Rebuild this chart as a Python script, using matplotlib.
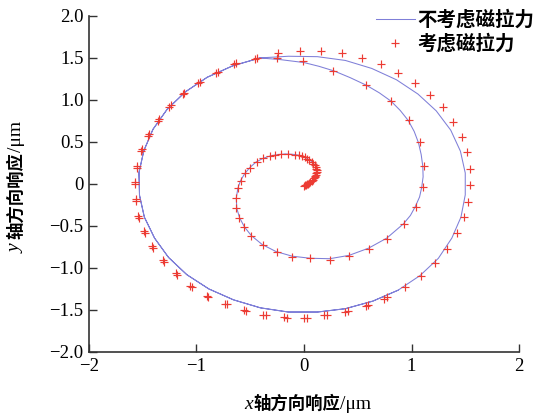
import numpy as np
import matplotlib
matplotlib.use('Agg')
import matplotlib.pyplot as plt
from matplotlib.transforms import IdentityTransform

# orbit without magnetic pull (blue line): inner spiral, first outer loop, second pass
blue_inner = [(0.02, 0.0), (0.06, 0.025), (0.095, 0.065), (0.115, 0.115), (0.12, 0.165),
              (0.105, 0.22), (0.07, 0.27), (0.02, 0.31), (-0.04, 0.34), (-0.10, 0.352),
              (-0.17, 0.357), (-0.24, 0.35), (-0.31, 0.335), (-0.38, 0.305), (-0.445, 0.262),
              (-0.50, 0.20), (-0.55, 0.125), (-0.59, 0.04), (-0.615, -0.05), (-0.63, -0.17),
              (-0.625, -0.29), (-0.60, -0.40), (-0.555, -0.51), (-0.49, -0.615), (-0.39, -0.72),
              (-0.26, -0.805), (-0.11, -0.86), (0.06, -0.885), (0.24, -0.89), (0.42, -0.85),
              (0.60, -0.765), (0.77, -0.645), (0.925, -0.475), (0.99, -0.375), (1.035, -0.27),
              (1.075, -0.155), (1.095, -0.04), (1.108, 0.085), (1.105, 0.21), (1.09, 0.35),
              (1.065, 0.49), (1.025, 0.625), (0.97, 0.755), (0.895, 0.875), (0.81, 0.985),
              (0.70, 1.085), (0.58, 1.175), (0.43, 1.265), (0.28, 1.345), (0.14, 1.40),
              (0.0, 1.445), (-0.22, 1.48), (-0.41, 1.50)]
blue_loop = [(-0.665, 1.405), (-0.90, 1.27), (-1.105, 1.095), (-1.275, 0.885), (-1.405, 0.65),
             (-1.49, 0.395), (-1.535, 0.135), (-1.53, -0.135), (-1.485, -0.395), (-1.39, -0.645),
             (-1.26, -0.875), (-1.09, -1.08), (-0.885, -1.25), (-0.655, -1.38), (-0.405, -1.475),
             (-0.145, -1.525), (0.125, -1.525), (0.385, -1.485), (0.64, -1.395), (0.875, -1.265),
             (1.08, -1.09), (1.25, -0.885), (1.375, -0.645), (1.46, -0.395), (1.50, -0.13),
             (1.50, 0.13), (1.455, 0.39), (1.365, 0.64), (1.23, 0.87), (1.06, 1.07),
             (0.86, 1.24), (0.63, 1.375), (0.385, 1.47), (0.125, 1.515), (-0.145, 1.52),
             (-0.41, 1.50)]
blue_end = [(-0.665, 1.405), (-0.90, 1.27), (-1.105, 1.095), (-1.275, 0.885), (-1.405, 0.65),
            (-1.49, 0.395), (-1.535, 0.135), (-1.53, -0.135), (-1.485, -0.395), (-1.39, -0.645),
            (-1.26, -0.875), (-1.09, -1.08), (-0.885, -1.25), (-0.655, -1.38), (-0.405, -1.475),
            (-0.145, -1.525), (0.125, -1.525), (0.385, -1.485), (0.64, -1.395), (0.875, -1.265)]

# orbit with magnetic pull (red + markers)
red_hook = [(0.00, -0.02), (0.01, -0.015), (0.02, -0.01), (0.03, -0.005), (0.04, 0.00),
            (0.05, 0.01), (0.06, 0.02), (0.07, 0.035), (0.08, 0.05), (0.09, 0.065),
            (0.10, 0.08), (0.105, 0.095), (0.11, 0.11), (0.115, 0.125), (0.12, 0.14),
            (0.12, 0.16), (0.115, 0.18), (0.11, 0.20), (0.10, 0.22), (0.085, 0.24),
            (0.07, 0.26), (0.05, 0.28), (0.03, 0.30), (0.005, 0.315), (-0.02, 0.33),
            (-0.05, 0.34)]
red_inner = [(-0.08, 0.345), (-0.15, 0.357), (-0.21, 0.357), (-0.27, 0.345), (-0.32, 0.333),
             (-0.38, 0.305), (-0.44, 0.266), (-0.50, 0.194), (-0.55, 0.127), (-0.59, 0.04),
             (-0.61, -0.05), (-0.63, -0.17), (-0.63, -0.29), (-0.60, -0.40), (-0.56, -0.51),
             (-0.49, -0.62), (-0.38, -0.73), (-0.25, -0.81), (-0.11, -0.865), (0.06, -0.885),
             (0.24, -0.90), (0.42, -0.857), (0.60, -0.77), (0.77, -0.65), (0.93, -0.48),
             (1.04, -0.27), (1.11, -0.04), (1.12, 0.21), (1.08, 0.50), (0.98, 0.76),
             (0.81, 0.99), (0.58, 1.18), (0.27, 1.35), (-0.01, 1.46), (-0.25, 1.50)]
red_loop = [(-0.44, 1.50), (-0.63, 1.435), (-0.80, 1.337), (-0.967, 1.212), (-1.116, 1.085),
            (-1.24, 0.935), (-1.346, 0.775), (-1.44, 0.598), (-1.505, 0.41), (-1.553, 0.216),
            (-1.572, 0.02), (-1.567, -0.18), (-1.54, -0.385), (-1.49, -0.56), (-1.41, -0.742),
            (-1.31, -0.91), (-1.195, -1.065), (-1.06, -1.214), (-0.905, -1.336), (-0.735, -1.425),
            (-0.555, -1.505), (-0.379, -1.56), (-0.19, -1.587), (0.0, -1.59), (0.19, -1.565),
            (0.385, -1.52), (0.575, -1.45), (0.745, -1.365), (0.94, -1.23), (1.086, -1.095),
            (1.219, -0.937), (1.333, -0.774), (1.42, -0.587), (1.488, -0.396), (1.528, -0.21),
            (1.544, -0.012), (1.544, 0.175), (1.519, 0.385), (1.467, 0.563), (1.383, 0.742),
            (1.29, 0.913), (1.172, 1.06), (1.033, 1.206), (0.877, 1.325), (0.716, 1.43),
            (0.537, 1.496), (0.35, 1.556), (0.155, 1.587), (-0.04, 1.587), (-0.24, 1.556)]
red_end = [(-0.46, 1.49), (-0.65, 1.425), (-0.82, 1.325), (-0.985, 1.20), (-1.13, 1.07),
           (-1.255, 0.915), (-1.36, 0.755), (-1.45, 0.575), (-1.513, 0.39), (-1.557, 0.195),
           (-1.572, 0.0), (-1.565, -0.20), (-1.535, -0.405), (-1.483, -0.58), (-1.40, -0.76),
           (-1.30, -0.925), (-1.18, -1.08), (-1.045, -1.225), (-0.89, -1.345), (-0.715, -1.435),
           (-0.535, -1.513), (-0.355, -1.565), (-0.16, -1.59), (0.03, -1.59), (0.215, -1.56),
           (0.41, -1.51), (0.595, -1.44), (0.775, -1.35)]

ticks = [-2, -1, 0, 1, 2]
xtick_labels = ['\u22122', '\u22121', '0', '1', '2']
yticks = [-2.0, -1.5, -1.0, -0.5, 0, 0.5, 1.0, 1.5, 2.0]
ytick_labels = ['\u22122.0', '\u22121.5', '\u22121.0', '\u22120.5', '0', '0.5', '1.0', '1.5', '2.0']

serif = 'Liberation Serif'
cjk = 'Noto Sans CJK SC'


def place_label(fig, pieces, x, y, vertical=False):
    # lay out mixed-font pieces one after the other, centred on (x, y) in pixels
    r = fig.canvas.get_renderer()
    widths = []
    for s, kw in pieces:
        t = fig.text(0, 0, s, **kw)
        widths.append(t.get_window_extent(r).width)
        t.remove()
    pos = -sum(widths) / 2
    for (s, kw), w in zip(pieces, widths):
        if vertical:
            fig.text(x, y + pos, s, rotation=90, rotation_mode='anchor', ha='left',
                     va='baseline', transform=IdentityTransform(), **kw)
        else:
            fig.text(x + pos, y, s, ha='left', va='baseline',
                     transform=IdentityTransform(), **kw)
        pos += w


fig = plt.figure(figsize=(5.38, 4.17), dpi=100)
ax = fig.add_axes([0.1654, 0.156, 0.7993, 0.8058])

blue = np.array(blue_inner + blue_loop + blue_end)
red = np.array(red_hook + red_inner + red_loop + red_end)
ax.plot(blue[:, 0], blue[:, 1], color='#7f7fd8', lw=0.75, label='不考虑磁拉力')
ax.plot(red[:, 0], red[:, 1], ls='none', marker='+', ms=5.5, mew=0.85,
        color='#ec3b33', label='考虑磁拉力')

ax.set_xlim(-2, 2)
ax.set_ylim(-2, 2)
ax.set_xticks(ticks)
ax.set_xticklabels(xtick_labels)
ax.set_yticks(yticks)
ax.set_yticklabels(ytick_labels)
for s in ['top', 'right']:
    ax.spines[s].set_visible(False)
for s in ['left', 'bottom']:
    ax.spines[s].set_color('#333333')
    ax.spines[s].set_linewidth(1.2)
ax.tick_params(direction='in', length=6, width=1, color='#333333', pad=4)
for lab in ax.get_xticklabels() + ax.get_yticklabels():
    lab.set_fontfamily(serif)
    lab.set_fontsize(13.5)

leg = ax.legend(loc='upper left', bbox_to_anchor=(376 / 538, 407 / 417),
                bbox_transform=fig.transFigure, frameon=False, borderpad=0,
                borderaxespad=0, handlelength=2.0, handletextpad=0.15,
                labelspacing=0.25, prop={'family': cjk, 'weight': 'bold', 'size': 14})

place_label(fig, [('x', dict(family=serif, style='italic', size=14)),
                  ('轴方向响应', dict(family=cjk, weight='bold', size=12.5)),
                  ('/μm', dict(family=serif, size=14))], 308, 8)
place_label(fig, [('y ', dict(family=serif, style='italic', size=14)),
                  ('轴方向响应', dict(family=cjk, weight='bold', size=12.5)),
                  ('/μm', dict(family=serif, size=14))], 21, 230, vertical=True)

fig.savefig('out.png', dpi=100)
